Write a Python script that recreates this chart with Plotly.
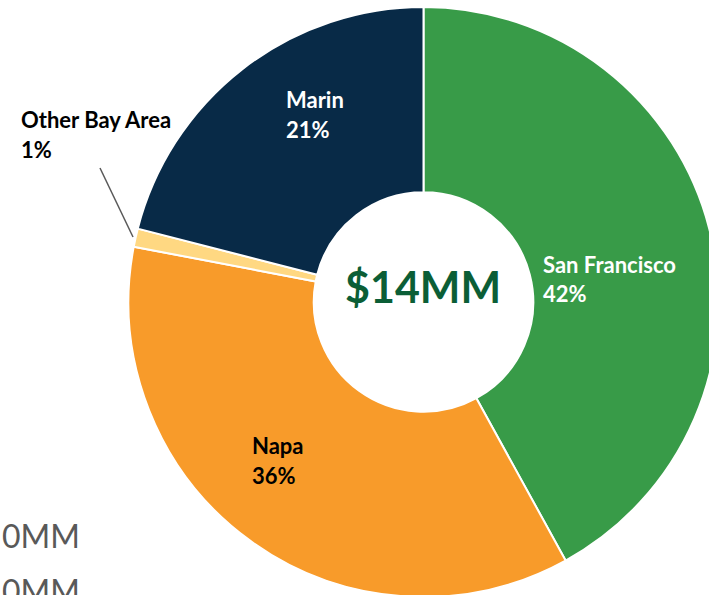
import plotly.graph_objects as go

# ---- data ----
regions = ["San Francisco", "Napa", "Other Bay Area", "Marin"]
shares = [42, 36, 1, 21]          # percent of total
slice_colors = ["#389B48", "#F89B2A", "#FFD882", "#082A47"]
label_colors = ["#FFFFFF", "#000000", "#000000", "#FFFFFF"]
total_label = "$14MM"
axis_remnants = ["0MM", "0MM"]

# figure slightly larger than the window; the window crops it like the reference
W, H = 720, 600
CX, CY, R = 423.5, 302.0, 295.0   # donut geometry in figure pixels
FONT = "Lato"

fig = go.Figure()
fig.add_trace(go.Pie(
    labels=regions,
    values=shares,
    sort=False,
    direction="clockwise",
    rotation=0,
    hole=0.372,
    marker=dict(colors=slice_colors, line=dict(color="#FFFFFF", width=2)),
    textinfo="none",
    hoverinfo="label+percent",
    showlegend=False,
    domain=dict(x=[(CX - R) / W, min(1.0, (CX + R) / W)],
                y=[max(0.0, (H - (CY + R)) / H), min(1.0, (H - (CY - R)) / H)]),
))

def px(x):
    return x / W

def py(y):
    return 1 - y / H

annotations = []
LINE_GAP = 29.5

def add_label(x_left, y_top, name, pct, color):
    annotations.append(dict(x=px(x_left), y=py(y_top), xref="paper", yref="paper",
                            xanchor="left", yanchor="top", showarrow=False,
                            text="<b>%s</b>" % name,
                            font=dict(family=FONT, size=22, color=color)))
    annotations.append(dict(x=px(x_left), y=py(y_top + LINE_GAP), xref="paper", yref="paper",
                            xanchor="left", yanchor="top", showarrow=False,
                            text="<b>%d%%</b>" % pct,
                            font=dict(family=FONT, size=22, color=color)))

label_pos = {
    "San Francisco": (541, 249),
    "Napa": (250, 430),
    "Other Bay Area": (19, 104),
    "Marin": (284, 84),
}
for name, pct, col in zip(regions, shares, label_colors):
    x0, y0 = label_pos[name]
    add_label(x0, y0, name, pct, col)

# centre total
annotations.append(dict(x=px(422.5), y=py(287), xref="paper", yref="paper",
                        xanchor="center", yanchor="middle", showarrow=False,
                        text="<b>%s</b>" % total_label,
                        font=dict(family=FONT, size=43, color="#0B5E36")))

# clipped axis labels from a neighbouring chart
for i, t in enumerate(axis_remnants):
    annotations.append(dict(x=0, y=py(535 + 55 * i), xref="paper", yref="paper",
                            xanchor="left", yanchor="middle", showarrow=False,
                            text=t, font=dict(family=FONT, size=32, color="#595959")))

fig.update_layout(
    width=W, height=H,
    margin=dict(l=0, r=0, t=0, b=0),
    paper_bgcolor="#FFFFFF",
    plot_bgcolor="#FFFFFF",
    annotations=annotations,
    shapes=[dict(type="line", xref="paper", yref="paper",
                 x0=px(100), y0=py(168), x1=px(133), y1=py(237),
                 line=dict(color="#595959", width=1.5))],
)

fig.write_html(
    "out.html",
    config={"displayModeBar": False},
    post_script="document.body.style.margin='0';document.body.style.overflow='hidden';",
)
